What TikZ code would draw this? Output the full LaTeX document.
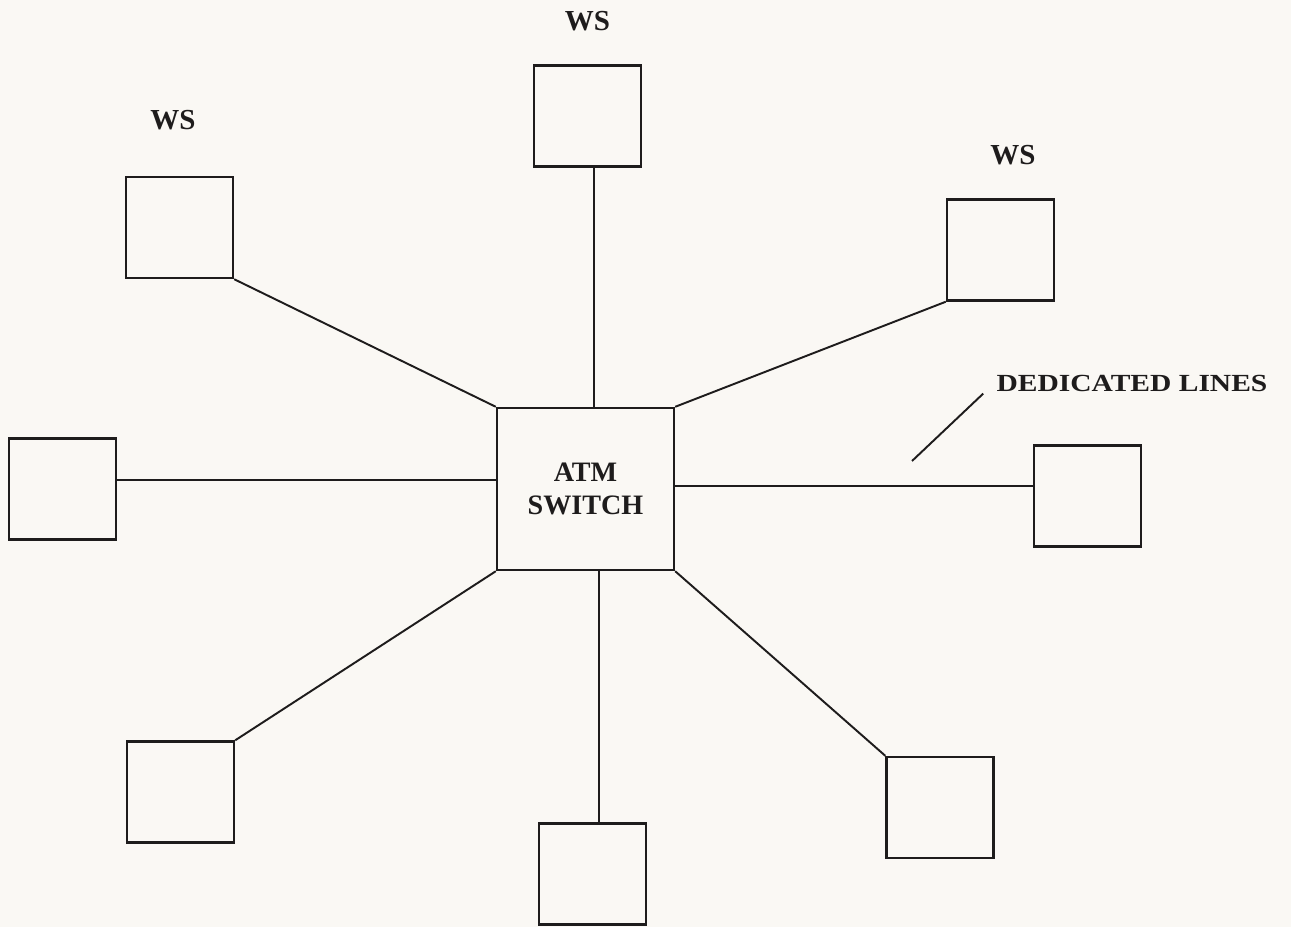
\documentclass[tikz,border=0pt]{standalone}
\usepackage{fontspec}
\setmainfont{Liberation Serif}
\newfontfamily\widefont[FakeStretch=1.2]{Liberation Serif}
\usepackage{tikz}
\usetikzlibrary{positioning}
\definecolor{paper}{RGB}{250,248,244}
\definecolor{ink}{RGB}{30,28,28}

\begin{document}
\begin{tikzpicture}[x=0.02cm, y=-0.02cm,
  wsbox/.style={draw=ink, line width=1.4pt, minimum width=2.14cm, minimum height=2.02cm, inner sep=0pt},
  wslabel/.style={font=\fontsize{16.5}{19}\selectfont\bfseries, inner sep=0pt, text=ink},
  link/.style={draw=ink, line width=1.1pt}]
  \fill[paper] (0,0) rectangle (1291,927);
  \useasboundingbox (0,0) rectangle (1291,927);
  % switch in the middle
  \node[draw=ink, line width=1.4pt, minimum width=3.54cm, minimum height=3.24cm, align=center, font=\fontsize{16}{18.8}\selectfont\bfseries, text=ink] (sw) at (585.5,489) {ATM\\SWITCH};
  % workstations
  \node[wsbox] (wsT) at (587.5,116) {};
  \node[wsbox] (wsTL) at (179.5,227.5) {};
  \node[wsbox] (wsTR) at (1000.5,250) {};
  \node[wsbox] (wsL) at (62.5,489) {};
  \node[wsbox] (wsR) at (1087.5,496) {};
  \node[wsbox] (wsBL) at (180.5,792) {};
  \node[wsbox] (wsB) at (592.5,874) {};
  \node[wsbox] (wsBR) at (940,807.5) {};
  \node[wslabel, above=0.66cm of wsT] (lblT) {WS};
  \node[wslabel, above=0.92cm of wsTL, xshift=-0.13cm] (lblTL) {WS};
  \node[wslabel, above=0.66cm of wsTR, xshift=0.25cm] (lblTR) {WS};
  % dedicated lines
  \draw[link] ([xshift=0.13cm]wsT.south) -- ([xshift=0.13cm]wsT.south |- sw.north);
  \draw[link] (wsTL.south east) -- (sw.north west);
  \draw[link] (wsTR.south west) -- (sw.north east);
  \draw[link] ([yshift=0.18cm]wsL.east) -- ([yshift=0.18cm]wsL.east -| sw.west);
  \draw[link] ([yshift=0.06cm]sw.east) -- ([yshift=0.06cm]sw.east -| wsR.west);
  \draw[link] (wsBL.north east) -- (sw.south west);
  \draw[link] ([xshift=0.13cm]wsB.north) -- ([xshift=0.13cm]wsB.north |- sw.south);
  \draw[link] (wsBR.north west) -- (sw.south east);
  \coordinate (lead) at (912,461);
  \node[font=\widefont\fontsize{14}{16}\selectfont\bfseries, text=ink, inner xsep=0.26cm, inner ysep=0.04cm] (dl) at (1132,383) {DEDICATED LINES};
  \draw[link] (lead) -- (dl.south west);
\end{tikzpicture}
\end{document}
